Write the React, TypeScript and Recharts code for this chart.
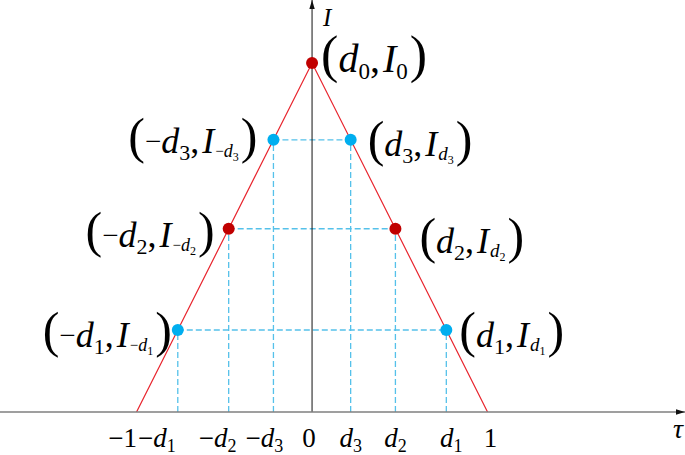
import React from 'react';
import { ComposedChart, Line, Scatter, XAxis, YAxis, ReferenceLine } from 'recharts';

// ---------- data ----------
const triangleX = [-1, 0, 1];
const triangleI = [0, 1, 0];

// d1, d2, d3 and their intensities
const dValues = [0.765, 0.475, 0.22];
const dIntensity = [0.235, 0.525, 0.78];
const peak = { d: 0, I: 1 };

const tickValues = [-1, -dValues[0], -dValues[1], -dValues[2], 0, dValues[2], dValues[1], dValues[0], 1];
const tickLabels = ['−1', '−d1', '−d2', '−d3', '0', 'd3', 'd2', 'd1', '1'];

const redKeys = ['d0', '-d2', 'd2'];
const redX = [peak.d, -dValues[1], dValues[1]];
const redI = [peak.I, dIntensity[1], dIntensity[1]];

const blueKeys = ['-d1', 'd1', '-d3', 'd3'];
const blueX = [-dValues[0], dValues[0], -dValues[2], dValues[2]];
const blueI = [dIntensity[0], dIntensity[0], dIntensity[2], dIntensity[2]];

// ---------- layout / style ----------
const W = 685;
const H = 455;
const X_DOMAIN: [number, number] = [-1.778, 2.125];
const Y_DOMAIN: [number, number] = [0, 1.1805];
const SERIF = "'Liberation Serif', 'Times New Roman', Times, serif";
const RED_LINE = '#e8252e';
const RED_DOT = '#c00000';
const BLUE_DOT = '#00aeef';
const BLUE_DASH = '#55c1ea';
const TICK_DX = [-14, -21, -11, -9, -3, 0, 0, 5, 3];

const LABEL_POS: Record<string, { dx: number; dy: number; anchor: 'start' | 'end' }> = {
  d0: { dx: 9, dy: 9, anchor: 'start' },
  d3: { dx: 17, dy: 16, anchor: 'start' },
  d2: { dx: 24, dy: 24, anchor: 'start' },
  d1: { dx: 13, dy: 17, anchor: 'start' },
  '-d3': { dx: -16, dy: 13, anchor: 'end' },
  '-d2': { dx: -14, dy: 18, anchor: 'end' },
  '-d1': { dx: -6, dy: 17, anchor: 'end' },
};

const triangle = triangleX.map((x, i) => ({ x, y: triangleI[i] }));
const redPoints = redKeys.map((k, i) => ({ x: redX[i], y: redI[i], key: k }));
const bluePoints = blueKeys.map((k, i) => ({ x: blueX[i], y: blueI[i], key: k }));

const base = { fontFamily: SERIF, fontStyle: 'normal' as const };
const ital = { fontFamily: SERIF, fontStyle: 'italic' as const };

function PointLabel({ x, y, k }: { x: number; y: number; k: string }) {
  const pos = LABEL_POS[k];
  const big = k === 'd0';
  const neg = k.startsWith('-');
  const idx = k.replace('-', '').replace('d', '');
  const fs = big ? 40 : 36;
  const pfs = big ? 52 : 50;
  const subFs = big ? 23 : 22;
  return (
    <text x={x + pos.dx} y={y + pos.dy} textAnchor={pos.anchor} style={base} fill="#000">
      <tspan style={{ ...base, fontSize: pfs }}>(</tspan>
      {neg ? (
        <>
          <tspan style={{ ...base, fontSize: 29 }} dy={-2}>−</tspan>
          <tspan style={{ ...ital, fontSize: fs }} dy={2}>d</tspan>
        </>
      ) : (
        <tspan style={{ ...ital, fontSize: fs }}>d</tspan>
      )}
      <tspan style={{ ...base, fontSize: subFs }} dy={7}>{idx}</tspan>
      <tspan style={{ ...base, fontSize: fs }} dy={-7}>,</tspan>
      <tspan style={{ ...ital, fontSize: fs }} dx={3}>I</tspan>
      {big ? (
        <tspan style={{ ...base, fontSize: subFs }} dy={7}>0</tspan>
      ) : neg ? (
        <>
          <tspan style={{ ...base, fontSize: 15 }} dy={3} dx={1}>−</tspan>
          <tspan style={{ ...ital, fontSize: 18 }} dy={1}>d</tspan>
          <tspan style={{ ...base, fontSize: 12 }} dy={4}>{idx}</tspan>
        </>
      ) : (
        <>
          <tspan style={{ ...ital, fontSize: 19 }} dy={4} dx={1}>d</tspan>
          <tspan style={{ ...base, fontSize: 12 }} dy={4}>{idx}</tspan>
        </>
      )}
      <tspan style={{ ...base, fontSize: pfs }} dy={big ? -7 : -8} dx={2}>)</tspan>
    </text>
  );
}

const makeShape = (color: string) => (props: any) => {
  const { cx, cy, payload } = props;
  return (
    <g>
      <circle cx={cx} cy={cy} r={6} fill={color} />
      <PointLabel x={cx} y={cy} k={payload.key} />
    </g>
  );
};

const renderTick = (props: any) => {
  const { x, y, payload } = props;
  let i = tickValues.indexOf(payload.value);
  if (i < 0) i = props.index ?? 0;
  const label = tickLabels[i] ?? '';
  const m = label.match(/^(−?)d(\d)$/);
  const bx = x + (TICK_DX[i] ?? 0);
  const by = y + 35;
  if (m) {
    return (
      <text x={bx} y={by} textAnchor="middle" style={{ ...base, fontSize: 27 }} fill="#000">
        {m[1] ? <tspan style={{ ...base, fontSize: 27 }}>−</tspan> : null}
        <tspan style={{ ...ital, fontSize: 27 }}>d</tspan>
        <tspan style={{ ...base, fontSize: 18 }} dy={5}>{m[2]}</tspan>
      </text>
    );
  }
  return (
    <text x={bx} y={by} textAnchor="middle" style={{ ...base, fontSize: 27 }} fill="#000">
      {label}
    </text>
  );
};

const dashStyle = { stroke: BLUE_DASH, strokeWidth: 1.3, strokeDasharray: '6 3' };

export default function App() {
  return (
    <div style={{ position: 'absolute', left: 0, top: 0, width: W, height: H, background: '#fff' }}>
      <ComposedChart width={W} height={H} margin={{ top: 0, right: 0, bottom: 0, left: 0 }}>
        <defs>
          <marker id="arrowHead" viewBox="0 0 10 6" refX="10" refY="3" markerWidth="9" markerHeight="6"
            markerUnits="userSpaceOnUse" orient="auto">
            <path d="M0,0 L10,3 L0,6 z" fill="#111" />
          </marker>
        </defs>
        <XAxis
          type="number"
          dataKey="x"
          domain={X_DOMAIN}
          ticks={tickValues}
          interval={0}
          allowDataOverflow
          tickLine={false}
          tickSize={0}
          tickMargin={0}
          height={43}
          tick={renderTick}
          axisLine={{ stroke: '#7f7f7f', strokeWidth: 1.5, markerEnd: 'url(#arrowHead)' } as any}
          label={{
            content: (p: any) => {
              const vb = p.viewBox || { x: 0, y: 412, width: W };
              return (
                <text x={vb.x + vb.width - 7} y={vb.y + 26} textAnchor="middle"
                  style={{ ...ital, fontSize: 28 }} fill="#000">τ</text>
              );
            },
          } as any}
        />
        <YAxis hide type="number" dataKey="y" domain={Y_DOMAIN} allowDataOverflow />
        {dValues.map((d, i) => (
          <ReferenceLine key={`h${i}`} segment={[{ x: -d, y: dIntensity[i] }, { x: d, y: dIntensity[i] }]}
            ifOverflow="visible" {...dashStyle} />
        ))}
        {dValues.map((d, i) => (
          <ReferenceLine key={`vl${i}`} segment={[{ x: -d, y: 0 }, { x: -d, y: dIntensity[i] }]}
            ifOverflow="visible" {...dashStyle} />
        ))}
        {dValues.map((d, i) => (
          <ReferenceLine key={`vr${i}`} segment={[{ x: d, y: 0 }, { x: d, y: dIntensity[i] }]}
            ifOverflow="visible" {...dashStyle} />
        ))}
        <ReferenceLine
          segment={[{ x: 0, y: 0 }, { x: 0, y: Y_DOMAIN[1] }]}
          ifOverflow="visible"
          stroke="#111"
          strokeWidth={1}
          markerEnd="url(#arrowHead)"
          label={{
            content: (p: any) => {
              const vb = p.viewBox || { x: 312, y: 0 };
              return (
                <text x={vb.x + 11} y={26} style={{ ...ital, fontSize: 25 }} fill="#000">I</text>
              );
            },
          } as any}
        />
        <Line data={triangle} dataKey="y" stroke={RED_LINE} strokeWidth={1.2} dot={false} activeDot={false}
          isAnimationActive={false} legendType="none" />
        <Scatter data={redPoints} dataKey="y" fill={RED_DOT} shape={makeShape(RED_DOT)} isAnimationActive={false} />
        <Scatter data={bluePoints} dataKey="y" fill={BLUE_DOT} shape={makeShape(BLUE_DOT)} isAnimationActive={false} />
      </ComposedChart>
    </div>
  );
}
